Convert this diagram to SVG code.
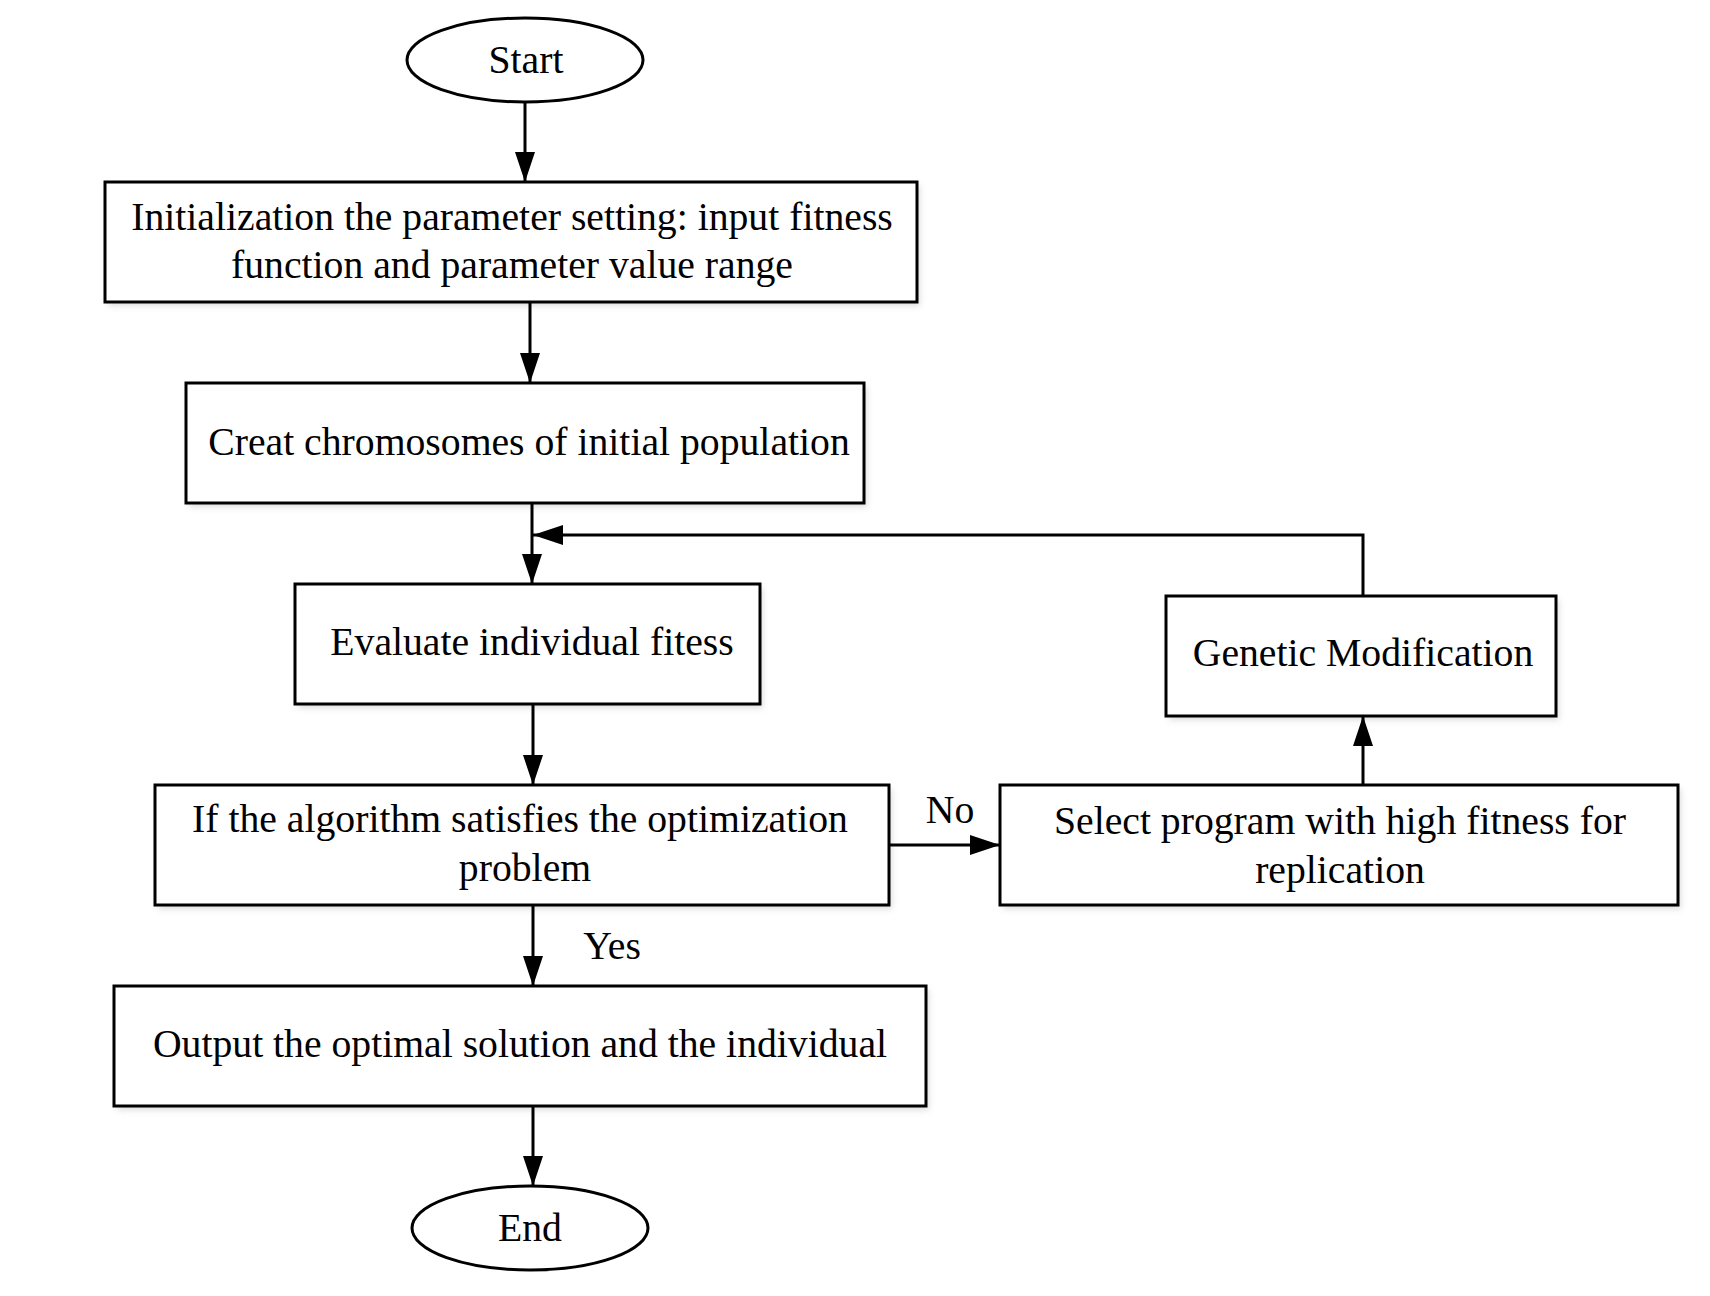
<svg xmlns="http://www.w3.org/2000/svg" width="1710" height="1296" viewBox="0 0 1710 1296">
<defs>
<style>
.box{fill:#fff;stroke:#000;stroke-width:3}
.sh{fill:#bbb;opacity:0.5;filter:url(#blur)}
.t{font-family:"Liberation Serif","Times New Roman",serif;font-size:39.7px;fill:#000;text-anchor:middle}
.ln{fill:none;stroke:#000;stroke-width:3}
</style>
<filter id="blur" x="-5%" y="-5%" width="110%" height="120%"><feGaussianBlur stdDeviation="3"/></filter>
<marker id="ah" viewBox="0 0 30 20" refX="30" refY="10" markerWidth="30" markerHeight="20" markerUnits="userSpaceOnUse" orient="auto"><path d="M0,0 L30,10 L0,20 Z" fill="#000"/></marker>
</defs>
<rect width="1710" height="1296" fill="#fff"/>
<g id="start"><ellipse class="box" cx="525" cy="60" rx="118" ry="42"/><text class="t" x="526" y="73">Start</text></g>
<g id="init"><rect class="sh" x="108" y="186" width="812" height="120"/><rect class="box" x="105" y="182" width="812" height="120"/><text class="t" x="512" y="230">Initialization the parameter setting: input fitness</text><text class="t" x="512" y="278">function and parameter value range</text></g>
<g id="create"><rect class="sh" x="189" y="387" width="678" height="120"/><rect class="box" x="186" y="383" width="678" height="120"/><text class="t" x="529" y="455">Creat chromosomes of initial population</text></g>
<g id="evaluate"><rect class="sh" x="298" y="588" width="465" height="120"/><rect class="box" x="295" y="584" width="465" height="120"/><text class="t" x="532" y="655">Evaluate individual fitess</text></g>
<g id="check"><rect class="sh" x="158" y="789" width="734" height="120"/><rect class="box" x="155" y="785" width="734" height="120"/><text class="t" x="520" y="832">If the algorithm satisfies the optimization</text><text class="t" x="525" y="881">problem</text></g>
<g id="select"><rect class="sh" x="1003" y="789" width="678" height="120"/><rect class="box" x="1000" y="785" width="678" height="120"/><text class="t" x="1340" y="834">Select program with high fitness for</text><text class="t" x="1340" y="883">replication</text></g>
<g id="genetic"><rect class="sh" x="1169" y="600" width="390" height="120"/><rect class="box" x="1166" y="596" width="390" height="120"/><text class="t" x="1363" y="666">Genetic Modification</text></g>
<g id="output"><rect class="sh" x="117" y="990" width="812" height="120"/><rect class="box" x="114" y="986" width="812" height="120"/><text class="t" x="520" y="1057">Output the optimal solution and the individual</text></g>
<g id="end"><ellipse class="box" cx="530" cy="1228" rx="118" ry="42"/><text class="t" x="530" y="1241">End</text></g>
<g id="connectors">
<line class="ln" x1="525" y1="102" x2="525" y2="182" marker-end="url(#ah)"/>
<line class="ln" x1="530" y1="302" x2="530" y2="383" marker-end="url(#ah)"/>
<line class="ln" x1="532" y1="503" x2="532" y2="584" marker-end="url(#ah)"/>
<line class="ln" x1="533" y1="704" x2="533" y2="785" marker-end="url(#ah)"/>
<line class="ln" x1="889" y1="845" x2="1000" y2="845" marker-end="url(#ah)"/>
<line class="ln" x1="1363" y1="785" x2="1363" y2="716" marker-end="url(#ah)"/>
<polyline class="ln" points="1363,596 1363,535 533,535" marker-end="url(#ah)"/>
<line class="ln" x1="533" y1="905" x2="533" y2="986" marker-end="url(#ah)"/>
<line class="ln" x1="533" y1="1106" x2="533" y2="1186" marker-end="url(#ah)"/>
<text class="t" x="950" y="823">No</text>
<text class="t" x="612" y="959">Yes</text>
</g>
</svg>
